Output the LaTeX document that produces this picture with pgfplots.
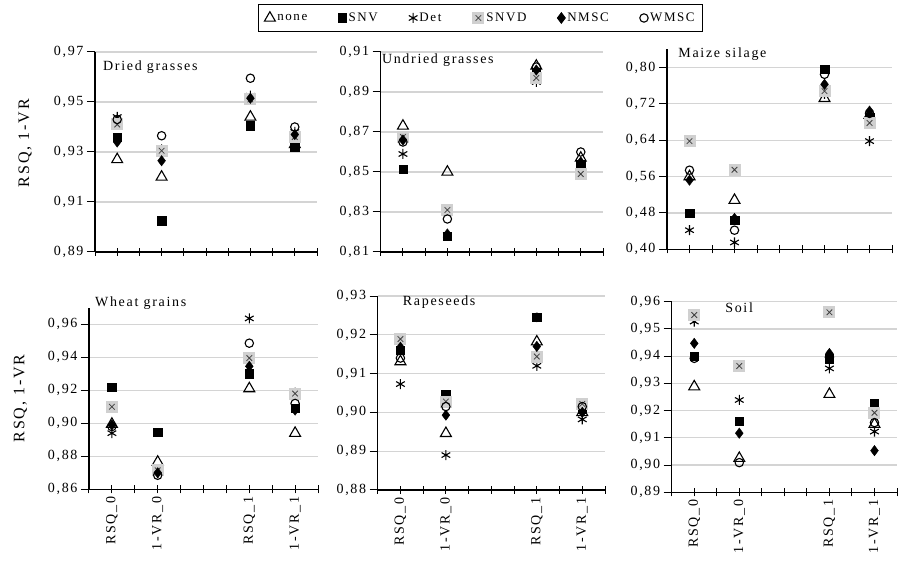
\documentclass[border=0pt]{standalone}
\usepackage{fontspec}
\setmainfont{Liberation Serif}[LetterSpace=12]
\usepackage{pgfplots}
\pgfplotsset{compat=1.18}
\usepackage{pgfplotstable}

\definecolor{gridgray}{HTML}{D4D4D4}
\definecolor{boxgray}{HTML}{D0D0D0}

% gray square with a small x (SNVD)
\pgfdeclareplotmark{sqx}{%
  \begin{pgfscope}
  \pgfsetfillcolor{boxgray}
  \pgfpathrectangle{\pgfpoint{-1.5\pgfplotmarksize}{-1.5\pgfplotmarksize}}{\pgfpoint{3\pgfplotmarksize}{3\pgfplotmarksize}}
  \pgfusepath{fill}
  \end{pgfscope}
  \begin{pgfscope}
  \pgfsetstrokecolor{black!75}
  \pgfsetlinewidth{0.8pt}
  \pgfpathmoveto{\pgfpoint{-0.7\pgfplotmarksize}{-0.7\pgfplotmarksize}}
  \pgfpathlineto{\pgfpoint{0.7\pgfplotmarksize}{0.7\pgfplotmarksize}}
  \pgfpathmoveto{\pgfpoint{-0.7\pgfplotmarksize}{0.7\pgfplotmarksize}}
  \pgfpathlineto{\pgfpoint{0.7\pgfplotmarksize}{-0.7\pgfplotmarksize}}
  \pgfusepath{stroke}
  \end{pgfscope}
}

% x: 1 = RSQ_0, 3 = 1-VR_0, 7 = RSQ_1, 9 = 1-VR_1
\pgfplotstableread{
x none  snv    det    snvd   nmsc   wmsc
1 0.927 0.936  0.944  0.941  0.934  0.943
3 0.920 0.9025 0.931  0.9305 0.9265 0.9365
7 0.944 0.9405 0.9525 0.951  0.9515 0.9595
9 0.933 0.932  0.938  0.936  0.937  0.940
}\dried
\pgfplotstableread{
x none  snv    det    snvd   nmsc   wmsc
1 0.873 0.8515 0.859  0.8675 0.866  0.865
3 0.850 0.818  0.8185 0.831  0.819  0.8265
7 0.903 0.900  0.895  0.897  0.901  0.9025
9 0.857 0.854  0.852  0.849  0.855  0.860
}\undried
\pgfplotstableread{
x none  snv    det    snvd   nmsc   wmsc
1 0.560 0.479  0.442  0.638  0.552  0.574
3 0.508 0.464  0.415  0.575  0.468  0.442
7 0.732 0.796  0.742  0.748  0.763  0.785
9 0.695 0.690  0.638  0.678  0.704  0.699
}\maize
\pgfplotstableread{
x none   snv    det    snvd   nmsc   wmsc
1 0.8995 0.922  0.894  0.910  0.899  0.898
3 0.8765 0.8945 0.870  0.8715 0.870  0.8685
7 0.921  0.930  0.9635 0.9395 0.9345 0.9485
9 0.894  0.909  0.9185 0.918  0.908  0.912
}\wheat
\pgfplotstableread{
x none   snv    det    snvd   nmsc   wmsc
1 0.9131 0.916  0.9073 0.9189 0.9168 0.914
3 0.8946 0.9047 0.889  0.9028 0.8993 0.9015
7 0.9182 0.9245 0.912  0.9144 0.917  0.9245
9 0.900  0.901  0.8982 0.9022 0.900  0.9015
}\rape
\pgfplotstableread{
x none   snv    det    snvd   nmsc   wmsc
1 0.9288 0.940  0.9527 0.9551 0.9447 0.9392
3 0.9025 0.9162 0.9239 0.9364 0.9117 0.9009
7 0.926  0.939  0.9355 0.9561 0.941  0.9396
9 0.915  0.9227 0.9123 0.9192 0.9053 0.9156
}\soil

\pgfplotsset{
  panel/.style={
    scale only axis,
    xmin=0, xmax=10,
    xtick={0,...,10},
    xticklabels={},
    axis x line*=bottom, axis y line*=left,
    axis line style={-, line width=1.1pt},
    xtick pos=left, ytick pos=left,
    xtick align=center, ytick align=outside,
    major tick length=8pt,
    tick style={black, line width=1pt},
    ymajorgrids,
    grid style={gridgray, line width=1.3pt},
    clip=false,
    yticklabel style={font=\fontsize{14}{16}\selectfont,
      /pgf/number format/.cd, fixed, fixed zerofill, precision=2,
      use comma, assume math mode=true},
    xticklabel style={font=\fontsize{14}{16}\selectfont, rotate=90, anchor=east},
    ylabel style={font=\fontsize{16}{18}\selectfont, anchor=center},
  },
  bottomrow/.style={xticklabels={,RSQ\_0,,1-VR\_0,,,,RSQ\_1,,1-VR\_1,}},
  snone/.style={only marks, mark=triangle, mark size=6.3,
    mark options={fill=white, draw=black, line width=1.1pt}},
  ssnv/.style={only marks, mark=square*, mark size=4.2,
    mark options={fill=black, draw=black}},
  sdet/.style={only marks, mark=asterisk, mark size=5,
    mark options={draw=black, line width=1.1pt}},
  ssnvd/.style={only marks, mark=sqx, mark size=4},
  snmsc/.style={only marks, mark=diamond*, mark size=5.2,
    mark options={fill=black, draw=black}},
  swmsc/.style={only marks, mark=o, mark size=4.2,
    mark options={fill=white, draw=black, line width=1.1pt}},
}
\newcommand\allseries[1]{%
  \addplot[snone] table[x=x, y=none] {#1};
  \addplot[ssnv] table[x=x, y=snv] {#1};
  \addplot[sdet] table[x=x, y=det] {#1};
  \addplot[ssnvd] table[x=x, y=snvd] {#1};
  \addplot[snmsc] table[x=x, y=nmsc] {#1};
  \addplot[swmsc] table[x=x, y=wmsc] {#1};
}
\newcommand\paneltitle[3]{%
  \node[anchor=west, font=\fontsize{14}{16}\selectfont, inner sep=0pt]
    at (rel axis cs:#1,#2) {#3};
}

\begin{document}
\begin{tikzpicture}
\useasboundingbox (0pt,0pt) rectangle (899pt,567pt);

% Dried grasses
\begin{axis}[panel, at={(95pt,315pt)}, anchor=south west, width=222pt, height=200pt,
  ymin=0.89, ymax=0.97, ytick={0.89,0.91,...,0.971},
  ylabel={RSQ, 1-VR}, ylabel style={at={(axis description cs:-0.315,0.545)}}]
\allseries{\dried}
\paneltitle{0.036}{0.925}{Dried grasses}
\end{axis}

% Undried grasses
\begin{axis}[panel, at={(380.7pt,315pt)}, anchor=south west, width=222.3pt, height=200pt,
  ymin=0.81, ymax=0.91, ytick={0.81,0.83,...,0.911},
  legend columns=6,
  legend style={at={(axis description cs:0.449,1.17)}, anchor=center,
    draw=black, line width=1pt, font=\fontsize{13}{15}\selectfont,
    inner xsep=6pt, inner ysep=6pt,
    /tikz/every even column/.append style={column sep=29pt}},
  legend cell align=left]
\allseries{\undried}
\legend{none,SNV,Det,SNVD,NMSC,WMSC}
\paneltitle{0.005}{0.96}{Undried grasses}
\end{axis}

% Maize silage
\begin{axis}[panel, at={(667pt,317.7pt)}, anchor=south west, width=225pt, height=200pt,
  ymin=0.40, ymax=0.84, ytick={0.40,0.48,...,0.801}]
\allseries{\maize}
\paneltitle{0.05}{0.977}{Maize silage}
\end{axis}

% Wheat grains
\begin{axis}[panel, bottomrow, at={(89pt,77.7pt)}, anchor=south west, width=229pt, height=181.6pt,
  ymin=0.86, ymax=0.97, ytick={0.86,0.88,...,0.961},
  ylabel={RSQ, 1-VR}, ylabel style={at={(axis description cs:-0.30,0.5)}}]
\allseries{\wheat}
\paneltitle{0.026}{1.026}{Wheat grains}
\end{axis}

% Rapeseeds
\begin{axis}[panel, bottomrow, at={(377.7pt,77pt)}, anchor=south west, width=227.3pt, height=194pt,
  ymin=0.88, ymax=0.93, ytick={0.88,0.89,...,0.931}]
\allseries{\rape}
\paneltitle{0.11}{0.97}{Rapeseeds}
\end{axis}

% Soil
\begin{axis}[panel, bottomrow, at={(671.7pt,74.7pt)}, anchor=south west, width=225.3pt, height=190.6pt,
  ymin=0.89, ymax=0.96, ytick={0.89,0.90,...,0.961}]
\allseries{\soil}
\paneltitle{0.237}{0.967}{Soil}
\end{axis}
\end{tikzpicture}
\end{document}
